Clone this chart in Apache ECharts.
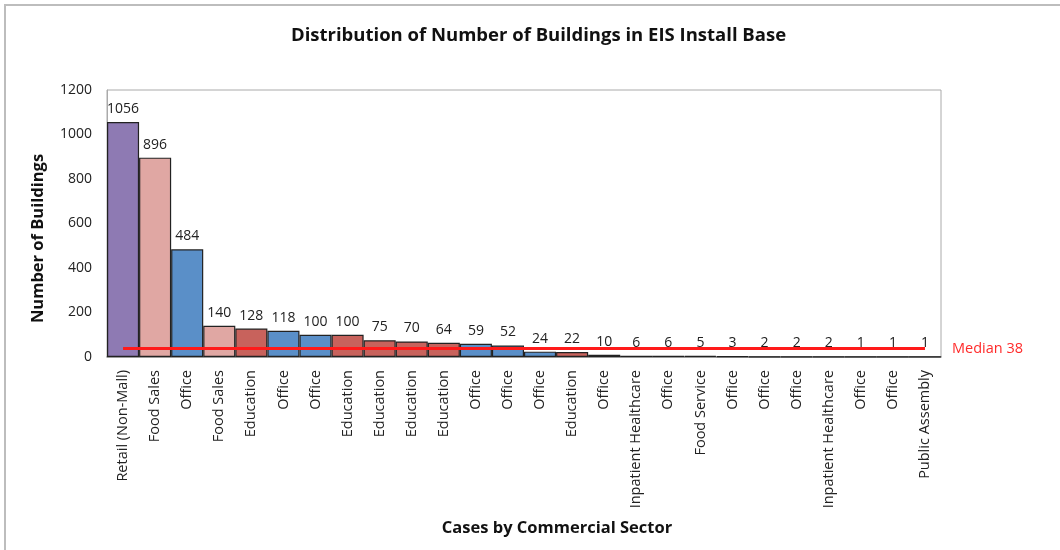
<!DOCTYPE html>
<html>
<head>
    <meta charset="utf-8">
    <script src="https://cdn.jsdelivr.net/npm/echarts@6/dist/echarts.min.js"></script>
    <style>
        body { margin: 0; background: #fff; }
    </style>
</head>
<body>
<div id="main" style="width: 1060px;height:550px;"></div>
<script type="text/javascript">
    // data
    const sectors = ['Retail (Non-Mall)', 'Food Sales', 'Office', 'Food Sales', 'Education', 'Office', 'Office',
        'Education', 'Education', 'Education', 'Education', 'Office', 'Office', 'Office', 'Education', 'Office',
        'Inpatient Healthcare', 'Office', 'Food Service', 'Office', 'Office', 'Office', 'Inpatient Healthcare',
        'Office', 'Office', 'Public Assembly'];
    const buildings = [1056, 896, 484, 140, 128, 118, 100, 100, 75, 70, 64, 59, 52, 24, 22, 10, 6, 6, 5, 3, 2, 2, 2, 1, 1, 1];
    const median = 38;
    const yTicks = [0, 200, 400, 600, 800, 1000, 1200];

    const sectorColor = {
        'Retail (Non-Mall)': '#8e7ab3',
        'Food Sales': '#e0a7a3',
        'Office': '#5a8fc8',
        'Education': '#c8625c',
        'Inpatient Healthcare': '#9bbb59',
        'Food Service': '#e0a7a3',
        'Public Assembly': '#f79646'
    };

    const myChart = echarts.init(document.getElementById('main'));

    const font = '"Open Sans", "Liberation Sans", sans-serif';

    const option = {
        backgroundColor: '#fff',
        textStyle: { fontFamily: font },
        title: {
            text: 'Distribution of Number of Buildings in EIS Install Base',
            left: 286,
            top: 21,
            textStyle: { fontFamily: font, fontSize: 18.5, fontWeight: 'bold', color: '#111' }
        },
        graphic: [{
            type: 'rect',
            shape: { x: 5, y: 5, width: 1100, height: 600 },
            style: { fill: null, stroke: '#bdbdbd', lineWidth: 2 },
            silent: true
        }],
        grid: {
            left: 107, right: 119, top: 90, bottom: 193,
            show: true, borderColor: '#aaa', borderWidth: 1
        },
        xAxis: {
            type: 'category',
            data: sectors,
            name: 'Cases by Commercial Sector',
            nameLocation: 'middle',
            nameGap: 163,
            nameTextStyle: {
                fontFamily: font, fontSize: 16.5, fontWeight: 'bold', color: '#111',
                padding: [0, 0, 0, 66]
            },
            axisLine: { lineStyle: { color: '#888', width: 1.5 } },
            axisTick: { show: false },
            axisLabel: {
                rotate: 90, interval: 0, margin: 13,
                fontFamily: font, fontSize: 14.5, color: '#222'
            }
        },
        yAxis: {
            type: 'value',
            min: yTicks[0],
            max: yTicks[yTicks.length - 1],
            interval: 200,
            name: 'Number of Buildings',
            nameLocation: 'middle',
            nameGap: 60,
            nameTextStyle: {
                fontFamily: font, fontSize: 16.5, fontWeight: 'bold', color: '#111',
                padding: [0, 30, 0, 0]
            },
            axisLine: { show: true, lineStyle: { color: '#aaa' } },
            axisTick: { show: false },
            splitLine: { show: false },
            axisLabel: {
                margin: 15, fontFamily: font, fontSize: 14, color: '#222',
                formatter: function (v) { return String(v); }
            }
        },
        series: [{
            type: 'bar',
            barCategoryGap: '0%',
            data: buildings.map(function (v, i) {
                return { value: v, itemStyle: { color: sectorColor[sectors[i]] } };
            }),
            itemStyle: { borderColor: '#222', borderWidth: 1.2 },
            label: {
                show: true, position: 'top', distance: 6,
                fontFamily: font, fontSize: 14, color: '#222'
            },
            markLine: {
                symbol: 'none',
                silent: true,
                lineStyle: { color: '#ff1a1a', width: 3, type: 'solid' },
                label: {
                    show: true, position: 'end', distance: 27,
                    formatter: 'Median ' + median,
                    fontFamily: font, fontSize: 14.5, color: '#ff2a2a'
                },
                data: [[
                    { coord: [0, median] },
                    { coord: [sectors.length - 1, median] }
                ]]
            }
        }]
    };

    myChart.setOption(option);
</script>
</body>
</html>
